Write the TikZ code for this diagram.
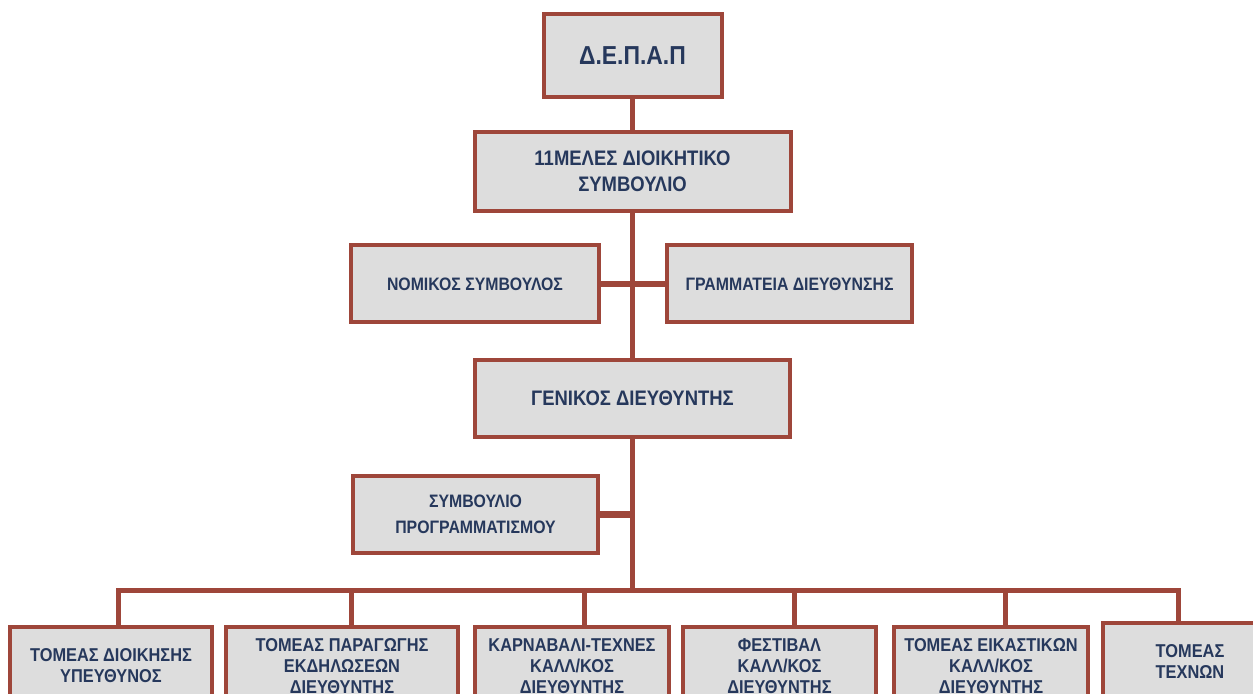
\documentclass[tikz,border=0pt]{standalone}
\usepackage{fontspec}
\setmainfont{Liberation Sans}[FakeStretch=0.88]
\definecolor{framebrown}{RGB}{158,70,58}
\definecolor{boxgray}{RGB}{221,221,221}
\definecolor{inkblue}{RGB}{38,56,92}

\begin{document}
\begin{tikzpicture}[x=0.5pt,y=-0.5pt,
    orgbox/.style={draw=framebrown,line width=2pt,fill=boxgray,text=inkblue,
      font=\bfseries\fontsize{9}{13}\selectfont,align=center,inner sep=0pt,
      minimum height=38.5pt},
    mainbox/.style={orgbox,font=\bfseries\fontsize{10.5}{13}\selectfont},
    unitbox/.style={orgbox,font=\bfseries\fontsize{9.3}{10.5}\selectfont},
    link/.style={draw=framebrown,line width=2.5pt}]

      \useasboundingbox (0,0) rectangle (1253,694);
      \clip (0,0) rectangle (1253,694);

      \node[orgbox,minimum width=89pt,minimum height=41.5pt,
        font=\bfseries\fontsize{13}{15}\selectfont] (depap) at (632.5,55.5) {Δ.Ε.Π.Α.Π};
      \node[mainbox,minimum width=158pt,minimum height=39.5pt] (board) at (632.5,171.5)
        {11ΜΕΛΕΣ ΔΙΟΙΚΗΤΙΚΟ\\ΣΥΜΒΟΥΛΙΟ};
      \node[orgbox,minimum width=124pt] (legal) at (475,284) {ΝΟΜΙΚΟΣ ΣΥΜΒΟΥΛΟΣ};
      \node[orgbox,minimum width=122.5pt] (secr) at (789.5,284) {ΓΡΑΜΜΑΤΕΙΑ ΔΙΕΥΘΥΝΣΗΣ};
      \node[mainbox,minimum width=157.5pt] (gm) at (632.5,398.5) {ΓΕΝΙΚΟΣ ΔΙΕΥΘΥΝΤΗΣ};
      \node[orgbox,minimum width=122.5pt] (prog) at (475.5,514.5) {ΣΥΜΒΟΥΛΙΟ\\ΠΡΟΓΡΑΜΜΑΤΙΣΜΟΥ};

      \node[unitbox,minimum width=101pt] (t1) at (111,666) {ΤΟΜΕΑΣ ΔΙΟΙΚΗΣΗΣ\\ΥΠΕΥΘΥΝΟΣ};
      \node[unitbox,minimum width=116pt] (t2) at (342,666) {ΤΟΜΕΑΣ ΠΑΡΑΓΩΓΗΣ\\ΕΚΔΗΛΩΣΕΩΝ\\ΔΙΕΥΘΥΝΤΗΣ};
      \node[unitbox,minimum width=97pt] (t3) at (572,666) {ΚΑΡΝΑΒΑΛΙ-ΤΕΧΝΕΣ\\ΚΑΛΛ/ΚΟΣ\\ΔΙΕΥΘΥΝΤΗΣ};
      \node[unitbox,minimum width=96.5pt] (t4) at (779.5,666) {ΦΕΣΤΙΒΑΛ\\ΚΑΛΛ/ΚΟΣ\\ΔΙΕΥΘΥΝΤΗΣ};
      \node[unitbox,minimum width=97pt] (t5) at (991,666) {ΤΟΜΕΑΣ ΕΙΚΑΣΤΙΚΩΝ\\ΚΑΛΛ/ΚΟΣ\\ΔΙΕΥΘΥΝΤΗΣ};
      \node[unitbox,minimum width=87pt] (t6) at (1190,662) {ΤΟΜΕΑΣ\\ΤΕΧΝΩΝ};

      \coordinate (bus) at (632.5,591);
      \draw[link] (depap) -- (board);
      \draw[link] (board) -- (gm);
      \draw[link] (gm) -- (bus);
      \draw[link,line width=3pt] (legal) -- (secr);
      \draw[link,line width=3.5pt] (prog.east) -- (prog.east -| bus);
      \foreach \n/\dx in {t1/3.5pt,t2/4.5pt,t3/6pt,t4/7.25pt,t5/7pt,t6/-6pt}
        \draw[link] ([xshift=\dx]\n.north) |- (bus);
  \end{tikzpicture}
\end{document}
